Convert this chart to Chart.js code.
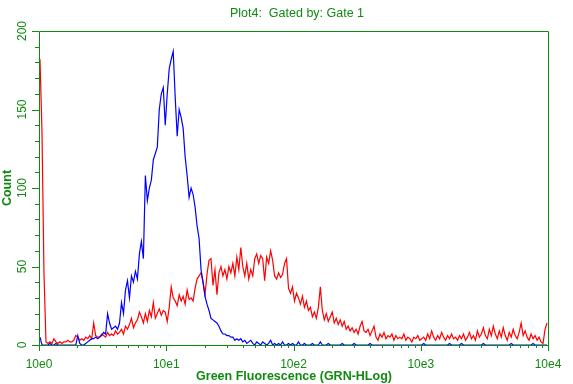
<!DOCTYPE html>
<html>
<head>
<meta charset="utf-8">
<script src="https://cdn.jsdelivr.net/npm/chart.js@4/dist/chart.umd.min.js"></script>
<style>
    html, body { margin: 0; padding: 0; background: #fff; }
</style>
</head>
<body>
<canvas id="plot" width="573" height="384"></canvas>
<script>
// histogram counts, one value per channel (256 channels over 4 decades)
var blueCounts = [
    5,0,0,0,0,1,0,0,1,0, 0,0,0,0,0,0,0,0,0,6, 1,0,0,1,2,3,4,4,5,4,
    5,6,8,7,20,14,10,11,12,10, 14,27,20,35,41,30,44,40,47,42, 58,66,55,108,92,100,105,118,122,126,
    150,160,164,140,160,176,182,187,158,133, 150,145,138,120,108,94,100,96,88,76, 68,48,40,31,26,22,17,16,15,14,
    12,9,7,7,6,6,5,5,3,4, 3,4,2,3,1,2,3,1,0,2, 1,0,2,1,0,1,3,0,1,0,
    1,0,2,0,0,1,0,1,0,0, 2,0,0,1,0,0,0,1,0,0, 0,2,0,0,0,1,0,0,0,0,
    0,0,1,0,0,0,0,0,1,0, 0,0,0,0,0,0,1,0,0,0, 0,0,0,0,0,0,0,0,0,0,
    0,0,0,0,0,0,0,0,0,0, 0,0,0,1,0,0,0,0,0,0, 0,0,0,0,0,0,1,0,0,0,
    0,0,1,0,0,0,0,0,0,0, 0,0,0,1,0,0,0,0,0,0, 0,0,0,0,0,0,0,1,0,0,
    0,0,0,0,0,0,0,0,1,0, 0,0,0,0,0,0
];
var redCounts = [
    182,136,46,2,1,2,1,4,2,1, 2,1,2,2,3,2,2,3,6,5, 3,4,3,5,4,6,4,14,6,5,
    5,7,6,5,8,6,7,6,9,7, 8,10,7,12,10,13,17,11,14,16, 21,18,14,20,15,22,18,27,17,20,
    23,19,22,21,15,24,37,30,28,25, 32,28,31,26,35,29,30,28,36,42, 44,46,40,32,45,54,55,38,48,32,
    46,50,44,48,42,50,46,52,44,56, 48,62,50,44,52,42,48,44,55,58, 52,57,55,41,56,52,60,54,44,42,
    46,43,45,52,55,36,33,37,28,33, 30,26,31,24,28,22,24,18,21,17, 24,37,22,16,20,15,18,21,14,17,
    13,16,12,15,10,12,9,11,8,10, 7,12,15,9,8,10,6,9,12,5, 3,7,5,8,4,6,5,7,3,6,
    4,5,4,7,3,5,4,2,5,4, 6,3,4,5,3,7,4,9,5,3, 6,4,8,5,3,6,4,7,4,5,
    3,6,4,7,3,5,8,4,6,3, 9,5,7,11,6,4,10,6,12,7, 4,9,5,11,6,3,8,5,10,6,
    4,8,14,6,9,5,3,7,4,6, 3,5,2,1,10,14
];
var decadeLabels = ['10e0', '10e1', '10e2', '10e3', '10e4'];
var countLabels = ['0', '50', '100', '150', '200'];

var channelsPerDecade = 64;
var channelCount = 256;
var axisGreen = '#108a10';
var textFont = '"Liberation Sans", Arial, sans-serif';

var channels = [];
for (var i = 0; i < channelCount; i++) {
    channels.push(i + 0.5);
}

function drawText(ctx, text, x, y, font, angle) {
    ctx.save();
    ctx.translate(x, y);
    if (angle) ctx.rotate(angle);
    ctx.font = font;
    ctx.fillStyle = axisGreen;
    ctx.textAlign = 'center';
    ctx.textBaseline = 'middle';
    ctx.fillText(text, 0, 0);
    ctx.restore();
}

// frame, tick marks and all the axis text, placed with the chart's own scales
var framePlugin = {
    id: 'frame',
    afterDraw: function (chart) {
        var ctx = chart.ctx;
        var a = chart.chartArea;
        var xs = chart.scales.x;
        var ys = chart.scales.y;

        ctx.save();
        ctx.strokeStyle = axisGreen;
        ctx.lineWidth = 1;
        ctx.beginPath();
        ctx.rect(a.left + 0.5, a.top + 0.5, a.right - a.left, a.bottom - a.top);

        for (var v = 0; v <= 200; v += 10) {
            var py = Math.round(ys.getPixelForValue(v)) + 0.5;
            var len = v % 50 === 0 ? 7 : 4;
            ctx.moveTo(a.left - len, py);
            ctx.lineTo(a.left, py);
        }

        for (var d = 0; d < 4; d++) {
            for (var k = 1; k <= 9; k++) {
                var ch = channelsPerDecade * (d + Math.log10(k));
                var px = Math.round(xs.getPixelForValue(ch)) + 0.5;
                ctx.moveTo(px, a.bottom);
                ctx.lineTo(px, a.bottom + (k === 1 ? 6 : 3));
            }
        }
        var lastX = Math.round(xs.getPixelForValue(channelCount)) + 0.5;
        ctx.moveTo(lastX, a.bottom);
        ctx.lineTo(lastX, a.bottom + 6);
        ctx.stroke();
        ctx.restore();

        for (var j = 0; j < decadeLabels.length; j++) {
            drawText(ctx, decadeLabels[j], xs.getPixelForValue(j * channelsPerDecade), 365, '12px ' + textFont, 0);
        }
        for (var n = 0; n < countLabels.length; n++) {
            drawText(ctx, countLabels[n], 22.5, ys.getPixelForValue(Number(countLabels[n])), '12px ' + textFont, -Math.PI / 2);
        }

        drawText(ctx, 'Plot4:  Gated by: Gate 1', 297, 14, '12.5px ' + textFont, 0);
        drawText(ctx, 'Green Fluorescence (GRN-HLog)', 294, 377, 'bold 12.5px ' + textFont, 0);
        drawText(ctx, 'Count', 7.5, 188, 'bold 12.5px ' + textFont, -Math.PI / 2);
    }
};

new Chart(document.getElementById('plot'), {
    type: 'line',
    data: {
        labels: channels,
        datasets: [
            { label: 'blue', data: blueCounts, borderColor: '#0000ff', borderWidth: 1.2 },
            { label: 'red', data: redCounts, borderColor: '#ff0000', borderWidth: 1.2 }
        ]
    },
    options: {
        responsive: false,
        animation: false,
        layout: { padding: { left: 39, top: 31, right: 25, bottom: 39 } },
        elements: {
            point: { radius: 0 },
            line: { tension: 0, fill: false }
        },
        plugins: {
            legend: { display: false },
            tooltip: { enabled: false }
        },
        scales: {
            x: { type: 'linear', min: 0, max: channelCount, display: false },
            y: { type: 'linear', min: 0, max: 200, display: false }
        }
    },
    plugins: [framePlugin]
});
</script>
</body>
</html>
